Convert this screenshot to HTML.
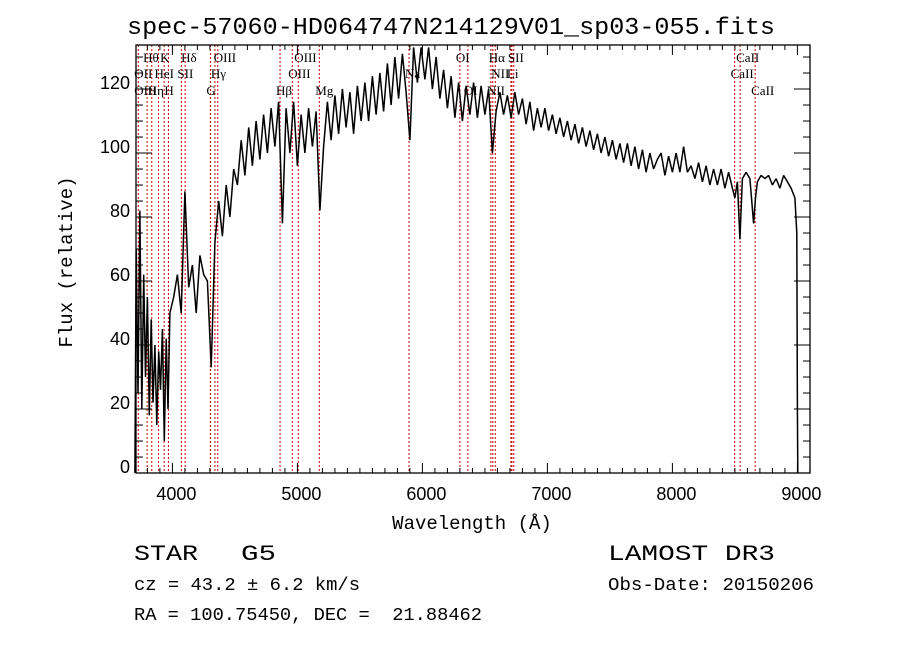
<!DOCTYPE html>
<html><head><meta charset="utf-8"><style>
html,body{margin:0;padding:0;background:#fff;}
svg{display:block;}
</style></head><body>
<svg id="chart" width="900" height="649" viewBox="0 0 900 649" xmlns="http://www.w3.org/2000/svg">
<rect width="900" height="649" fill="#fff"/>
<text x="451" y="34" text-anchor="middle" font-family="Liberation Mono, monospace" font-size="24" textLength="648" lengthAdjust="spacingAndGlyphs">spec-57060-HD064747N214129V01_sp03-055.fits</text>
<g id="lines"></g>
<g id="labels" font-family="Liberation Serif, serif" font-size="13"></g>
<path id="spec" fill="none" stroke="#000" stroke-width="1.5" stroke-linejoin="bevel"/>
<g id="axes"></g>
<rect x="136" y="45" width="674" height="428" fill="none" stroke="#000" stroke-width="1.3"/>
<text x="472" y="529" text-anchor="middle" font-family="Liberation Mono, monospace" font-size="19">Wavelength (Å)</text>
<text transform="translate(72,262) rotate(-90)" text-anchor="middle" font-family="Liberation Mono, monospace" font-size="19">Flux (relative)</text>
<text x="134" y="560" font-family="Liberation Mono, monospace" font-size="22" textLength="64" lengthAdjust="spacingAndGlyphs">STAR</text>
<text x="241" y="560" font-family="Liberation Mono, monospace" font-size="22" textLength="35" lengthAdjust="spacingAndGlyphs">G5</text>
<text x="134" y="590" font-family="Liberation Mono, monospace" font-size="18" textLength="226" lengthAdjust="spacingAndGlyphs">cz = 43.2 ± 6.2 km/s</text>
<text x="134" y="620" font-family="Liberation Mono, monospace" font-size="18" textLength="348" lengthAdjust="spacingAndGlyphs" xml:space="preserve">RA = 100.75450, DEC =  21.88462</text>
<text x="608" y="560" font-family="Liberation Mono, monospace" font-size="22" textLength="167" lengthAdjust="spacingAndGlyphs">LAMOST DR3</text>
<text x="608" y="590" font-family="Liberation Mono, monospace" font-size="18" textLength="206" lengthAdjust="spacingAndGlyphs">Obs-Date: 20150206</text>
</svg>
<script>
const wave = [3700,3710,3725,3740,3755,3770,3785,3800,3815,3830,3845,3860,3875,3890,3905,3920,3935,3950,3965,3980,4010,4040,4070,4100,4130,4160,4190,4220,4250,4280,4310,4340,4370,4400,4430,4460,4490,4520,4550,4580,4610,4640,4670,4700,4730,4760,4790,4820,4850,4880,4910,4940,4970,5000,5030,5060,5090,5120,5150,5180,5210,5240,5270,5300,5330,5360,5390,5420,5450,5480,5510,5540,5570,5600,5630,5660,5690,5720,5750,5780,5810,5840,5870,5900,5930,5960,5990,6020,6050,6080,6110,6140,6170,6200,6230,6260,6290,6320,6350,6380,6410,6440,6470,6500,6530,6560,6590,6620,6650,6680,6710,6740,6770,6800,6830,6860,6890,6920,6950,6980,7010,7040,7070,7100,7130,7160,7190,7220,7250,7280,7310,7340,7370,7400,7430,7460,7490,7520,7550,7580,7610,7640,7670,7700,7730,7760,7790,7820,7850,7880,7910,7940,7970,8000,8030,8060,8090,8120,8150,8180,8210,8240,8270,8300,8330,8360,8390,8420,8450,8480,8500,8520,8540,8560,8590,8620,8650,8665,8680,8710,8740,8770,8800,8830,8860,8890,8920,8950,8980,8995,9000,9003,9006];
const flux = [0,70,25,82,20,62,30,55,18,48,22,40,15,38,26,45,10,42,20,50,55,62,50,88,58,65,50,68,62,60,33,72,85,74,90,80,95,90,104,93,108,96,110,98,112,100,114,102,116,78,114,100,116,96,112,100,114,102,113,82,102,116,104,118,106,120,108,119,106,121,110,122,110,124,112,125,113,128,115,130,117,131,119,104,133,122,133,123,133,120,130,117,126,114,124,111,122,110,121,112,122,111,121,112,120,100,113,119,112,118,111,119,112,117,109,116,107,114,108,114,107,112,106,111,105,110,104,109,103,108,102,107,101,106,100,105,99,104,98,103,97,103,96,102,95,101,94,100,95,98,100,93,99,94,100,94,102,94,96,92,97,91,96,90,95,90,95,89,94,89,86,91,73,92,94,92,78,86,91,93,92,93,90,92,89,93,91,89,86,75,20,0];
const lineWaves = [3727,3798,3835,3889,3934,3968,4072,4102,4304,4340,4363,4861,4959,5007,5175,5893,6300,6364,6548,6563,6583,6708,6716,6731,8498,8542,8662];
const labelText = ["Hθ","K","Hδ","OIII","OIII","OI","Hα","SII","CaII","OII","HeI","SII","Hγ","OIII","Na","NII","Li","CaII","OIII","Hη","H","G","Hβ","Mg","OI","NII","CaII"];
const labelWave = [3798,3934,4102,4363,5007,6300,6563,6716,8542,3727,3889,4072,4340,4959,5893,6583,6708,8498,3727,3835,3968,4304,4861,5175,6364,6548,8662];
const labelRow = [0,0,0,0,0,0,0,0,0,1,1,1,1,1,1,1,1,1,2,2,2,2,2,2,2,2,2];
const xTicks = [4000,5000,6000,7000,8000,9000];
const yTicks = [0,20,40,60,80,100,120];

const X0=136,X1=810,Y0=473,Y1=45;
const xs = l => 172.4 + (l-4000)*0.125;
const ys = v => Math.max(Y1, 473 - v*3.2);
const NS='http://www.w3.org/2000/svg';
function mk(tag,attrs,parent){const e=document.createElementNS(NS,tag);for(const k in attrs)e.setAttribute(k,attrs[k]);parent.appendChild(e);return e;}

const gl=document.getElementById('lines');
lineWaves.forEach(l=>{
  const ln=mk('line',{x1:xs(l),x2:xs(l),y1:Y1,y2:Y0,stroke:'#c00000','stroke-width':1,'stroke-dasharray':'2,2'},gl);
  
  
});
const glb=document.getElementById('labels');
labelText.forEach((t,i)=>{
  const rowY=[62,78,95][labelRow[i]];
  const tx=mk('text',{x:xs(labelWave[i])-4,y:rowY},glb);
  tx.textContent=t;
  
  
});
let d='';
wave.forEach((l,i)=>{d+=(i?'L':'M')+xs(l).toFixed(1)+' '+ys(flux[i]).toFixed(1);});
document.getElementById('spec').setAttribute('d',d);

const ga=document.getElementById('axes');
for(let l=3800;l<=9100;l+=100){
  const x=xs(l); const major=l%1000===0;
  const L=major?10:5;
  mk('line',{x1:x,x2:x,y1:Y0,y2:Y0-L,stroke:'#000'},ga);
  mk('line',{x1:x,x2:x,y1:Y1,y2:Y1+L,stroke:'#000'},ga);
}
xTicks.forEach(l=>{
  const t=mk('text',{x:xs(l)+4,y:500,'text-anchor':'middle','font-family':'Liberation Sans, sans-serif','font-size':18},ga);
  t.textContent=l;
  
  
});
for(let v=0;v<=130;v+=5){
  const y=473-v*3.2; const major=v%20===0; const L=major?16:7;
  mk('line',{x1:X0,x2:X0+L,y1:y,y2:y,stroke:'#000'},ga);
  mk('line',{x1:X1,x2:X1-L,y1:y,y2:y,stroke:'#000'},ga);
}
yTicks.forEach(v=>{
  const t=mk('text',{x:130,y:473-v*3.2,'text-anchor':'end','font-family':'Liberation Sans, sans-serif','font-size':18},ga);
  t.textContent=v;
  
  
});
</script>
</body></html>
